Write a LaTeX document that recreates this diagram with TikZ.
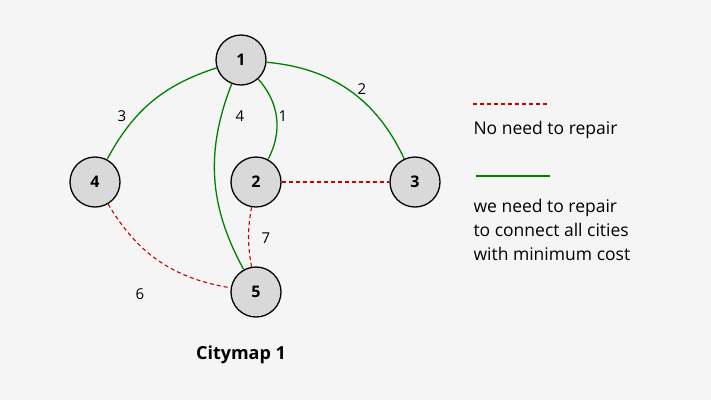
\documentclass[tikz,border=0pt]{standalone}
\usepackage{fontspec}
\setmainfont{Open Sans}
\begin{document}
\begin{tikzpicture}[x=1pt,y=-1pt,
  city/.style={circle,draw=black,line width=1.3pt,fill=gray!30,minimum size=50pt,inner sep=0pt,font=\fontsize{16}{19}\selectfont\bfseries},
  good/.style={draw=green!50!black,line width=1.3pt},
  bad/.style={draw=red!80!black,line width=1.1pt,dash pattern=on 4pt off 3pt},
  lab/.style={font=\fontsize{15}{18}\selectfont},
  leg/.style={font=\fontsize{17.5}{24}\selectfont,align=left,anchor=west}]
\fill[gray!8] (0,0) rectangle (711,400);
\node[city] (n1) at (241,60) {1};
\node[city] (n2) at (256,182) {2};
\node[city] (n3) at (415,182) {3};
\node[city] (n4) at (95,182) {4};
\node[city] (n5) at (256,292) {5};
\draw[good] (n1) to[bend right=22] (n4);
\draw[good] (n1) to[bend left=30] (n3);
\draw[good] (n1) to[bend left=35] (n2);
\draw[good] (n1) to[bend right=25] (n5);
\draw[bad] (n2) -- (n3);
\draw[bad] (n2) to[bend right=10] (n5);
\draw[bad] (n4) to[bend right=25] (n5);
\node[lab] (l3) at (122,116) {3};
\node[lab] (l4) at (240,116) {4};
\node[lab] (l1) at (283,116) {1};
\node[lab] (l2) at (362,89) {2};
\node[lab] (l7) at (266,238) {7};
\node[lab] (l6) at (140,294) {6};
\coordinate (a1) at (473,104); \coordinate (a2) at (550,104);
\draw[bad] (a1) -- (a2);
\node[leg] (t1) at (470,130) {No need to repair};
\coordinate (b1) at (476,176); \coordinate (b2) at (550,176);
\draw[good] (b1) -- (b2);
\node[leg,anchor=north west] (t2) at (470,196) {we need to repair\\to connect all cities\\with minimum cost};
\node[font=\fontsize{18}{21}\selectfont\bfseries] (title) at (241,355) {Citymap 1};
\end{tikzpicture}
\end{document}
